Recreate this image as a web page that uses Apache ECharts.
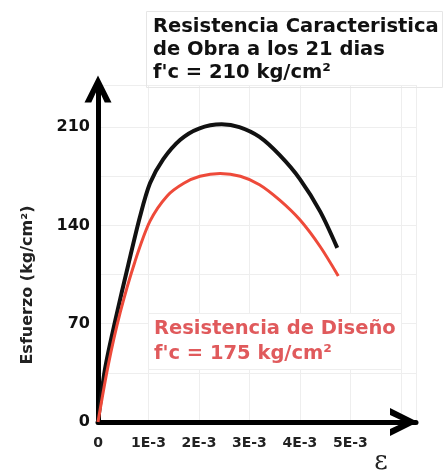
<!DOCTYPE html>
<html>
<head>
<meta charset="utf-8">
<script src="https://cdn.jsdelivr.net/npm/echarts@6/dist/echarts.min.js"></script>
<style>
html,body{margin:0;padding:0;background:#fff;}
#chart{width:443px;height:475px;}
</style>
</head>
<body>
<div id="chart"></div>
<script>
// Strain in units of 1E-3, stress in kg/cm²
const blackStrain = [0, 0.14, 0.34, 0.60, 0.83, 1.03, 1.29, 1.63, 2.00, 2.45, 2.80, 3.20, 3.60, 4.00, 4.40, 4.74];
const blackStress = [0, 38, 72, 112, 146, 170, 187, 201, 209, 212, 210, 203, 190, 173, 150, 124];
const redStrain = [0, 0.20, 0.44, 0.73, 1.03, 1.37, 1.70, 2.02, 2.42, 2.82, 3.20, 3.60, 4.00, 4.40, 4.76];
const redStress = [0, 40, 78, 114, 143, 161, 170, 175, 177, 175, 169, 158, 144, 125, 104];
const xTickLabels = ['0', '1E-3', '2E-3', '3E-3', '4E-3', '5E-3'];
const yTickLabels = [0, 70, 140, 210];

const topTitle = "Resistencia Caracteristica\nde Obra a los 21 dias\nf'c = 210 kg/cm²";
const redTitle = "Resistencia de Diseño\nf'c = 175 kg/cm²";
const yName = 'Esfuerzo (kg/cm²)';
const xName = 'ε';

const chevron = 'path://M0,14 L7,0 L14,14 L10.5,14 L7,6.5 L3.5,14 Z';

const chart = echarts.init(document.getElementById('chart'));
chart.setOption({
  animation: false,
  backgroundColor: '#fff',
  title: [
    {
      text: topTitle, left: 146, top: 11,
      padding: [4, 4, 4, 7],
      borderColor: '#e6e6e6', borderWidth: 1,
      textStyle: {fontFamily: 'DejaVu Sans', fontWeight: 'bold', fontSize: 19.5, lineHeight: 23, color: '#111'}
    },
    {
      text: redTitle, left: 148, top: 313,
      padding: [3, 6, 4, 6],
      borderColor: '#eeeeee', borderWidth: 1,
      backgroundColor: '#fff',
      textStyle: {fontFamily: 'DejaVu Sans', fontWeight: 'bold', fontSize: 19.5, lineHeight: 25, color: '#e05a5c'}
    }
  ],
  graphic: [
    {type: 'text', x: 28, y: 285, rotation: Math.PI / 2,
     style: {text: yName, font: 'bold 16px "DejaVu Sans"', fill: '#222', align: 'center', verticalAlign: 'middle'}},
    {type: 'text', x: 381, y: 462,
     style: {text: xName, font: '26px "DejaVu Serif"', fill: '#222', align: 'center', verticalAlign: 'middle'}}
  ],
  grid: {left: 98, right: 27, top: 85, bottom: 53, containLabel: false},
  xAxis: {
    type: 'value', min: 0, max: 6.3, interval: 1,
    axisLine: {show: true, lineStyle: {color: '#000', width: 5}, symbol: ['none', chevron], symbolSize: [34, 28], symbolOffset: [0, -12]},
    axisTick: {show: false},
    axisLabel: {
      margin: 14, color: '#222', fontFamily: 'DejaVu Sans', fontWeight: 'bold', fontSize: 14,
      formatter: v => { const i = Math.round(v); return (Math.abs(v - i) < 1e-6 && i < xTickLabels.length) ? xTickLabels[i] : ''; }
    },
    splitLine: {show: true, lineStyle: {color: '#eeeeee', width: 1}}
  },
  yAxis: {
    type: 'value', min: 0, max: 240, interval: 35,
    axisLine: {show: true, lineStyle: {color: '#000', width: 5}, symbol: ['none', chevron], symbolSize: [33, 27], symbolOffset: [0, -4]},
    axisTick: {show: false},
    axisLabel: {
      margin: 8, color: '#111', fontFamily: 'DejaVu Sans', fontWeight: 'bold', fontSize: 16,
      formatter: v => yTickLabels.includes(v) ? String(v) : ''
    },
    splitLine: {show: true, lineStyle: {color: '#eeeeee', width: 1}}
  },
  series: [
    {
      type: 'line', smooth: 0.3, symbol: 'none',
      data: blackStrain.map((x, i) => [x, blackStress[i]]),
      lineStyle: {color: '#111', width: 4}
    },
    {
      type: 'line', smooth: 0.3, symbol: 'none',
      data: redStrain.map((x, i) => [x, redStress[i]]),
      lineStyle: {color: '#ee4a3a', width: 3}
    }
  ]
});
</script>
</body>
</html>
